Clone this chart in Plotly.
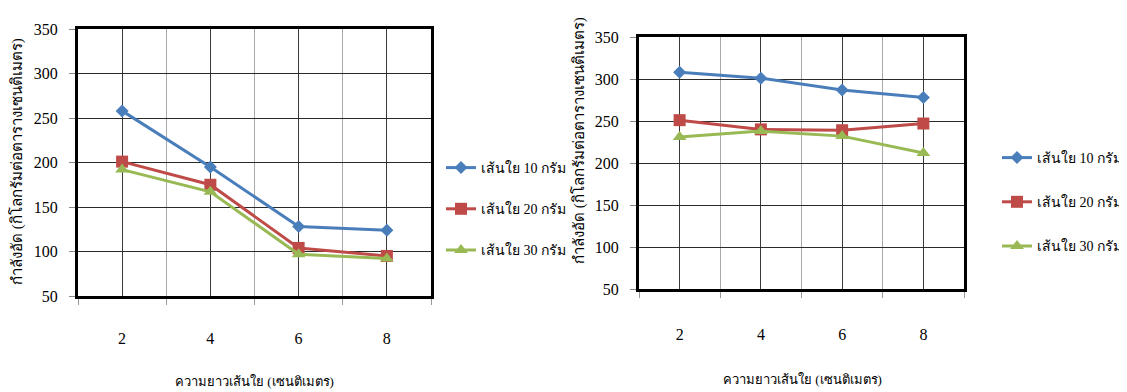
import plotly.graph_objects as go

lengths = [2, 4, 6, 8]
series_names = ["เส้นใย 10 กรัม", "เส้นใย 20 กรัม", "เส้นใย 30 กรัม"]
left_10 = [258, 195, 128, 124]
left_20 = [201, 175, 104, 95]
left_30 = [192, 167, 97, 92]
right_10 = [308, 301, 287, 278]
right_20 = [251, 240, 239, 247]
right_30 = [231, 238, 232, 212]
y_ticks = [50, 100, 150, 200, 250, 300, 350]
x_title = "ความยาวเส้นใย (เซนติเมตร)"
y_title = "กำลังอัด (กิโลกรัมต่อตารางเซนติเมตร)"

colors = ["#4a7ebb", "#be4b48", "#98b954"]
symbols = ["diamond", "square", "triangle-up"]
msizes = [10, 12, 12]
FONT = "Times New Roman, Liberation Serif, serif"

OFF = 8  # page body margin
W, H = 1127 - OFF, 392 - OFF
fig = go.Figure()

for i, (vals, name) in enumerate(zip([left_10, left_20, left_30], series_names)):
    fig.add_trace(go.Scatter(x=lengths, y=vals, name=name, mode="lines+markers",
                             line=dict(color=colors[i], width=3),
                             marker=dict(symbol=symbols[i], size=msizes[i], color=colors[i]),
                             xaxis="x", yaxis="y", legend="legend", legendgroup="a%d" % i))
for i, (vals, name) in enumerate(zip([right_10, right_20, right_30], series_names)):
    fig.add_trace(go.Scatter(x=lengths, y=vals, name=name, mode="lines+markers",
                             line=dict(color=colors[i], width=3),
                             marker=dict(symbol=symbols[i], size=msizes[i], color=colors[i]),
                             xaxis="x2", yaxis="y2", legend="legend2", legendgroup="b%d" % i))

def px_x(p):
    return (p - OFF) / W

def px_y(p):
    return 1 - (p - OFF) / H

def xaxis_cfg(x0, x1, standoff):
    return dict(domain=[px_x(x0), px_x(x1)], range=[1, 9], tickvals=lengths,
                ticks="", showline=True, linecolor="black", linewidth=3, mirror=True,
                showgrid=True, gridcolor="#3a3a3a", gridwidth=1, zeroline=False,
                ticklabelstandoff=standoff, automargin=False,
                tickfont=dict(family=FONT, size=16, color="black"),
                minor=dict(tick0=1, dtick=2, ticks="outside", ticklen=6, tickcolor="#999",
                           showgrid=True, gridcolor="#aaaaaa", gridwidth=1))

def yaxis_cfg(y0, y1, anchor):
    return dict(domain=[px_y(y1), px_y(y0)], range=[50, 350], tickvals=y_ticks,
                ticks="outside", ticklen=6, tickcolor="#888",
                showline=True, linecolor="black", linewidth=3, mirror=True,
                showgrid=True, gridcolor="#2a2a2a", gridwidth=1, zeroline=False,
                ticklabelstandoff=8, anchor=anchor, automargin=False,
                tickfont=dict(family=FONT, size=16, color="black"))

fig.update_layout(
    width=W, height=H, margin=dict(l=0, r=0, t=0, b=0, autoexpand=False),
    paper_bgcolor="white", plot_bgcolor="white",
    font=dict(family=FONT, size=15, color="black"),
    xaxis=dict(**xaxis_cfg(78, 431, 26), anchor="y"),
    yaxis=yaxis_cfg(29, 296, "x"),
    xaxis2=dict(**xaxis_cfg(639, 964, 29), anchor="y2"),
    yaxis2=yaxis_cfg(37, 289, "x2"),
    legend=dict(x=px_x(441), y=px_y(152), xanchor="left", yanchor="top",
                traceorder="grouped", tracegroupgap=20, itemwidth=30,
                font=dict(family=FONT, size=14), bgcolor="rgba(0,0,0,0)"),
    legend2=dict(x=px_x(997), y=px_y(142), xanchor="left", yanchor="top",
                 traceorder="grouped", tracegroupgap=23, itemwidth=30,
                 font=dict(family=FONT, size=14), bgcolor="rgba(0,0,0,0)"),
    showlegend=True,
)

annots = [
    dict(text=x_title, x=px_x(254), y=px_y(381), xref="paper", yref="paper",
         showarrow=False, font=dict(family=FONT, size=13), xanchor="center", yanchor="middle"),
    dict(text=x_title, x=px_x(802), y=px_y(379), xref="paper", yref="paper",
         showarrow=False, font=dict(family=FONT, size=13), xanchor="center", yanchor="middle"),
    dict(text=y_title, x=px_x(17), y=px_y(162), xref="paper", yref="paper", textangle=-90,
         showarrow=False, font=dict(family=FONT, size=15), xanchor="center", yanchor="middle"),
    dict(text=y_title, x=px_x(579), y=px_y(141), xref="paper", yref="paper", textangle=-90,
         showarrow=False, font=dict(family=FONT, size=15), xanchor="center", yanchor="middle"),
]
fig.update_layout(annotations=annots)

fig.write_html("out.html")
